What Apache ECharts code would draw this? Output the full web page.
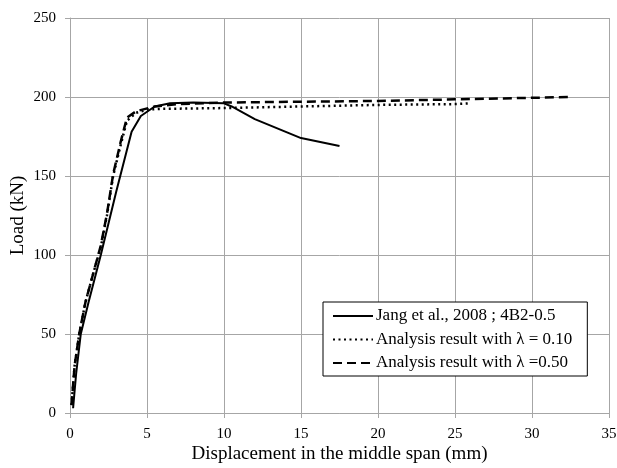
<!DOCTYPE html>
<html>
<head>
<meta charset="utf-8">
<script src="https://cdn.jsdelivr.net/npm/echarts@6/dist/echarts.min.js"></script>
<style>
  html, body { margin: 0; padding: 0; background: #fff; }
  #chart { width: 617px; height: 468px; }
</style>
</head>
<body>
<div id="chart"></div>
<script>
// Jang et al., 2008; 4B2-0.5 (test)
const testDisp = [0.2, 0.4, 0.7, 1.2, 2, 3, 4, 4.6, 5.5, 6.5, 8, 10, 10.5, 12, 15, 17.5]
const testLoad = [3, 25, 50, 70, 100, 140, 178, 188, 194, 196, 196.5, 196, 194, 186, 174, 169]

// Analysis result with lambda = 0.10
const lam10Disp = [0.1, 0.3, 0.6, 1, 1.5, 2, 2.4, 2.8, 3.3, 3.7, 4.3, 5, 6, 10, 15, 20, 25, 26]
const lam10Load = [5, 30, 50, 70, 88, 105, 125, 150, 170, 185, 190, 192, 192.5, 193, 194, 195, 195.5, 196]

// Analysis result with lambda = 0.50
const lam50Disp = [0.1, 0.3, 0.6, 1, 1.5, 2, 2.4, 2.8, 3.3, 3.7, 4.3, 5.5, 7, 10, 15, 20, 25, 30, 32.5]
const lam50Load = [5, 30, 50, 70, 88, 106, 126, 151, 172, 187, 191, 194, 195.5, 196.5, 197, 197.5, 198.5, 199.5, 200]

const seriesNames = [
  'Jang et al., 2008 ; 4B2-0.5',
  'Analysis result with λ = 0.10',
  'Analysis result with λ =0.50'
]

const zip = (xs, ys) => xs.map((x, i) => [x, ys[i]])

const chart = echarts.init(document.getElementById('chart'))
const font = '"Liberation Serif", "DejaVu Serif", serif'
const gridColor = '#a6a6a6'

const option = {
  animation: false,
  textStyle: { fontFamily: font, color: '#000' },
  grid: { left: 70, right: 8, top: 18, bottom: 55, outerBoundsMode: 'none' },
  legend: {
    orient: 'vertical',
    left: 323,
    top: 302,
    padding: [5, 15, 4, 9],
    itemGap: 5.5,
    itemWidth: 40,
    itemHeight: 14,
    borderColor: '#000',
    borderWidth: 1,
    backgroundColor: '#fff',
    itemStyle: { color: 'transparent', borderWidth: 0, opacity: 0 },
    textStyle: { fontFamily: font, fontSize: 17, lineHeight: 18, color: '#000', padding: [0, 0, 0, -2] },
    data: seriesNames
  },
  xAxis: {
    type: 'value',
    min: 0,
    max: 35,
    interval: 5,
    name: 'Displacement in the middle span (mm)',
    nameLocation: 'middle',
    nameGap: 32,
    nameMoveOverlap: false,
    nameTextStyle: { fontFamily: font, fontSize: 19, color: '#000' },
    axisLine: { show: true, onZero: false, lineStyle: { color: gridColor } },
    axisTick: { show: true, length: 5, lineStyle: { color: gridColor } },
    axisLabel: { fontFamily: font, fontSize: 15, color: '#000', margin: 14 },
    splitLine: { show: true, lineStyle: { color: gridColor, width: 1 } }
  },
  yAxis: {
    type: 'value',
    min: 0,
    max: 250,
    interval: 50,
    name: 'Load (kN)',
    nameLocation: 'middle',
    nameGap: 42,
    nameMoveOverlap: false,
    nameTextStyle: { fontFamily: font, fontSize: 19, color: '#000' },
    axisLine: { show: true, lineStyle: { color: gridColor } },
    axisTick: { show: true, length: 5, lineStyle: { color: gridColor } },
    axisLabel: { fontFamily: font, fontSize: 15, color: '#000', margin: 14 },
    splitLine: { show: true, lineStyle: { color: gridColor, width: 1 } }
  },
  series: [
    {
      name: seriesNames[0],
      type: 'line',
      data: zip(testDisp, testLoad),
      showSymbol: false,
      symbol: 'none',
      lineStyle: { color: '#000', width: 2 },
      itemStyle: { color: '#000' },
      z: 3
    },
    {
      name: seriesNames[1],
      type: 'line',
      data: zip(lam10Disp, lam10Load),
      showSymbol: false,
      symbol: 'none',
      lineStyle: { color: '#000', width: 2.5, type: [2, 3.5] },
      itemStyle: { color: '#000' },
      z: 2
    },
    {
      name: seriesNames[2],
      type: 'line',
      data: zip(lam50Disp, lam50Load),
      showSymbol: false,
      symbol: 'none',
      lineStyle: { color: '#000', width: 2.5, type: [9, 5] },
      itemStyle: { color: '#000' },
      z: 2
    }
  ]
}

chart.setOption(option)
</script>
</body>
</html>
